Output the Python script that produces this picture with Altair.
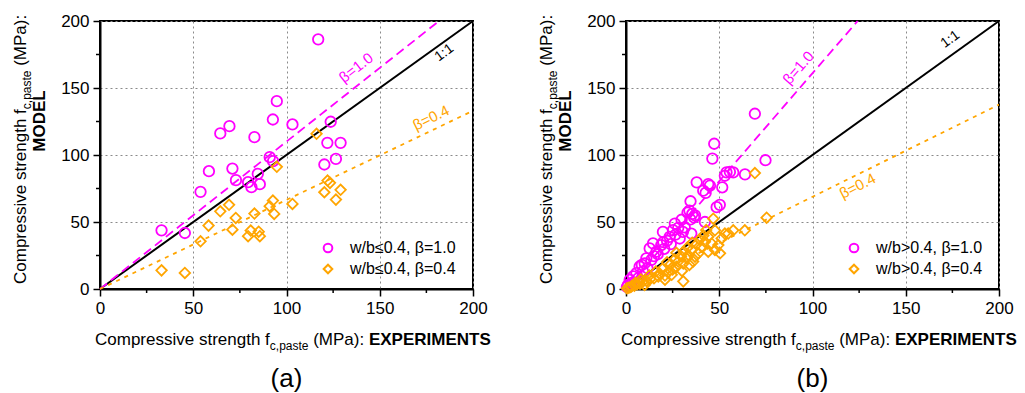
import altair as alt
import pandas as pd

FONT = "Liberation Sans"
MAG = "#FF00FF"
ORA = "#FFA500"
W, H = 373, 268

# ---------------- panel (a): w/b <= 0.4 ----------------
a_circ_x = [117.0, 94.8, 92.7, 69.4, 64.5, 82.8, 103.2, 123.7, 121.9, 129.0, 126.5, 120.3,
            91.0, 92.8, 71.0, 58.4, 72.9, 84.6, 79.4, 81.2, 85.7, 53.9, 33.0, 45.5]
a_circ_y = [186.3, 140.2, 126.5, 121.5, 116.1, 113.3, 122.8, 124.8, 109.1, 109.1, 97.1, 92.9,
            98.4, 95.4, 89.9, 87.9, 81.2, 85.9, 79.7, 76.0, 78.2, 72.5, 43.8, 41.8]
a_dia_x = [116.1, 94.8, 122.0, 123.3, 120.3, 129.0, 126.5, 103.2, 92.7, 91.0, 93.4, 69.2,
           64.5, 72.8, 82.8, 58.2, 71.0, 80.8, 85.1, 79.4, 85.7, 53.9, 33.0, 45.5]
a_dia_y = [115.8, 91.2, 80.9, 79.2, 72.2, 74.0, 66.7, 63.5, 66.0, 61.8, 56.0, 62.8,
           58.0, 53.0, 56.3, 47.3, 44.3, 43.6, 42.8, 39.4, 39.4, 35.6, 13.9, 12.0]

# ---------------- panel (b): w/b > 0.4 ----------------
b_circ_x = [69.1, 47.3, 46.3, 74.8, 53.9, 55.7, 57.5, 53.0, 63.8, 37.9, 44.1, 45.0, 41.4, 42.7,
            51.6, 34.6, 50.3, 48.6, 34.0, 35.5, 36.5, 34.5, 37.0, 33.0, 29.8, 26.2, 28.0, 42.3,
            19.8, 25.2, 30.5, 35.0, 23.4, 28.8, 22.0, 14.5, 18.9, 12.7, 16.3, 10.9, 13.6, 10.0,
            7.3, 9.1, 5.6, 3.8, 2.0, 4.6, 1.0, 0.5, 20.5, 24.0, 26.5, 31.5, 17.0, 15.0, 11.5,
            6.5, 3.0, 8.5, 20.0]
b_circ_y = [130.8, 108.4, 97.3, 96.1, 87.0, 87.4, 87.0, 84.5, 85.5, 79.6, 78.3, 77.1, 73.4, 71.7,
            75.9, 65.5, 62.8, 61.1, 58.5, 56.0, 53.5, 52.0, 55.0, 57.0, 51.7, 48.8, 45.6, 50.0,
            42.6, 43.9, 42.6, 41.4, 38.9, 37.7, 36.0, 34.0, 32.8, 30.3, 27.8, 22.9, 21.7, 19.2,
            16.8, 13.1, 11.8, 9.4, 6.9, 4.4, 3.0, 1.5, 30.0, 33.5, 40.5, 46.0, 26.0, 24.5, 15.5,
            8.0, 4.5, 18.0, 35.0]
b_dia_x = [69.1, 75.4, 63.7, 57.5, 54.8, 46.8, 47.7, 51.3, 53.0, 44.1, 42.3, 45.9, 40.5, 47.7,
           44.1, 38.8, 37.0, 35.2, 33.4, 32.5, 49.5, 50.4, 36.0, 34.0, 30.7, 28.0, 27.0, 25.0,
           30.0, 22.5, 24.5, 20.9, 18.0, 17.3, 15.0, 13.0, 11.0, 9.0, 7.5, 6.0, 4.5, 3.0, 1.5,
           0.5, 30.7, 20.9, 10.0, 26.0, 29.5, 31.0, 24.0, 38.0, 41.5, 35.5, 19.5, 16.0, 12.5,
           8.0, 5.0, 2.5, 33.0, 39.5, 43.0, 27.0, 22.0]
b_dia_y = [86.5, 53.2, 43.8, 43.8, 41.4, 52.5, 43.8, 37.7, 41.4, 38.9, 35.2, 34.0, 31.5, 29.1,
           27.8, 26.6, 24.1, 29.1, 25.4, 22.9, 32.8, 26.6, 20.5, 18.0, 19.0, 20.5, 16.5, 14.5,
           13.5, 12.5, 10.6, 10.0, 11.5, 9.4, 8.0, 7.5, 6.0, 5.5, 4.0, 3.5, 2.5, 2.0, 1.0,
           0.5, 5.7, 6.9, 3.0, 22.0, 24.5, 28.0, 18.5, 33.5, 40.0, 34.5, 15.0, 13.0, 10.0,
           7.0, 4.5, 1.5, 31.0, 37.0, 44.0, 27.0, 20.0]

# model lines: end points (x, y)
line11_x, line11_y = [0, 200], [0, 200]
a_b10_x, a_b10_y = [0, 181.8], [0, 200]
a_b04_x, a_b04_y = [0, 200], [0, 133]
b_b10_x, b_b10_y = [0, 124.2], [0, 200]
b_b04_x, b_b04_y = [0, 200], [0, 137.6]

# annotation labels: text, x, y, angle, colour, size
a_labels = [("1:1", 184.6, 176.3, 324, "black", 14),
            ("β=1.0", 137.3, 165.1, 322, MAG, 15),
            ("β=0.4", 177.5, 127.8, 334, ORA, 15)]
b_labels = [("1:1", 173.9, 186.3, 324, "black", 14),
            ("β=1.0", 92.4, 165.1, 311, MAG, 15),
            ("β=0.4", 124.2, 76.9, 333, ORA, 15)]

major_ticks = [0, 50, 100, 150, 200]
minor_ticks = [25, 75, 125, 175]

xs = alt.Scale(domain=[0, 200], nice=False, zero=False)
ys = alt.Scale(domain=[0, 200], nice=False, zero=False)

AX = alt.Axis(values=major_ticks, labelFontSize=17, labelFont=FONT, labelColor="black",
              tickSize=7, tickWidth=1.5, tickColor="black", domainColor="black",
              domainWidth=2, grid=True, gridColor="#8a8a8a", gridDash=[2, 3],
              gridWidth=1, labelPadding=4, title=None, labelFlush=False,
              labelOverlap=False)


def X(f):
    return alt.X(f, scale=xs, axis=AX)


def Y(f):
    return alt.Y(f, scale=ys, axis=AX)


def text_piece(t, px, py, size=17, weight="normal", angle=0, align="left",
               baseline="alphabetic"):
    kw = dict(align=align, baseline=baseline, fontSize=size, font=FONT,
              fontWeight=weight, color="black")
    if angle:
        kw["angle"] = angle
    return alt.Chart(pd.DataFrame({"t": [t]})).mark_text(**kw).encode(
        text="t:N", x=alt.value(px), y=alt.value(py))


def panel(cx, cy, dx, dy, b10x, b10y, b04x, b04y, labels, lab_c, lab_d, letter):
    pts = pd.DataFrame({"x": cx + dx, "y": cy + dy,
                        "s": [lab_c] * len(cx) + [lab_d] * len(dx)})
    points = alt.Chart(pts).mark_point(filled=False, strokeWidth=1.8, size=110, opacity=1).encode(
        x=X("x:Q"), y=Y("y:Q"),
        color=alt.Color("s:N", scale=alt.Scale(domain=[lab_c, lab_d], range=[MAG, ORA]),
                        legend=alt.Legend(orient="none", legendX=220, legendY=219,
                                          title=None, labelFontSize=16, labelFont=FONT,
                                          labelColor="black", symbolSize=75,
                                          symbolStrokeWidth=2, labelOffset=14,
                                          rowPadding=3)),
        shape=alt.Shape("s:N", scale=alt.Scale(domain=[lab_c, lab_d],
                                               range=["circle", "diamond"])),
    )

    def line(xv, yv, color, dash=None, width=1.8):
        kw = dict(color=color, strokeWidth=width)
        if dash:
            kw["strokeDash"] = dash
        return alt.Chart(pd.DataFrame({"x": xv, "y": yv})).mark_line(**kw).encode(
            x=X("x:Q"), y=Y("y:Q"))

    l11 = line(line11_x, line11_y, "black", width=2)
    l10 = line(b10x, b10y, MAG, dash=[9, 5])
    l04 = line(b04x, b04y, ORA, dash=[4, 5])

    texts = []
    for t, x, y, ang, col, fs in labels:
        texts.append(alt.Chart(pd.DataFrame({"t": [t], "x": [x], "y": [y]})).mark_text(
            angle=ang, color=col, fontSize=fs, font=FONT).encode(
            text="t:N", x=X("x:Q"), y=Y("y:Q")))

    mt = pd.DataFrame({"v": minor_ticks})
    mx = alt.Chart(mt).mark_rule(color="black", strokeWidth=1.5).encode(
        x=X("v:Q"), y=alt.value(H), y2=alt.value(H + 4))
    my = alt.Chart(mt).mark_rule(color="black", strokeWidth=1.5).encode(
        y=Y("v:Q"), x=alt.value(0), x2=alt.value(-4))

    # widths of title pieces (Arial metrics, 17px / 12px)
    w1, w2, sp, w3 = 174.8, 38.7, 4.7, 51.0
    # x axis title (with subscript and bold part)
    x0, bl = -5, 324
    xt = [text_piece("Compressive strength f", x0, bl),
          text_piece("c,paste", x0 + w1, bl + 5, size=12),
          text_piece("(MPa):", x0 + w1 + w2 + sp, bl),
          text_piece("EXPERIMENTS", x0 + w1 + w2 + sp + w3 + sp, bl, weight="bold")]
    # y axis title (rotated)
    yb, yx = 263, -74
    yt = [text_piece("Compressive strength f", yx, yb, angle=270),
          text_piece("c,paste", yx + 5, yb - w1, size=12, angle=270),
          text_piece("(MPa):", yx, yb - w1 - w2 - sp, angle=270),
          text_piece("MODEL", yx + 19, 100, weight="bold", angle=270, align="center")]
    let = text_piece(letter, W / 2, 358, size=26, align="center", baseline="middle")

    return alt.layer(l11, l10, l04, points, *texts, mx, my, *xt, *yt, let).properties(
        width=W, height=H)


left = panel(a_circ_x, a_circ_y, a_dia_x, a_dia_y, a_b10_x, a_b10_y, a_b04_x, a_b04_y,
             a_labels, "w/b≤0.4, β=1.0", "w/b≤0.4, β=0.4", "(a)")
right = panel(b_circ_x, b_circ_y, b_dia_x, b_dia_y, b_b10_x, b_b10_y, b_b04_x, b_b04_y,
              b_labels, "w/b>0.4, β=1.0", "w/b>0.4, β=0.4", "(b)")

chart = alt.hconcat(left, right, spacing=153, bounds="flush").resolve_scale(
    color="independent", shape="independent", x="independent", y="independent"
).resolve_legend(color="independent", shape="independent").configure_view(
    stroke="black", strokeWidth=2
).properties(padding={"left": 10, "top": 11, "right": 0, "bottom": 0},
             background="white")

chart.save("out.html", embed_options={"renderer": "svg", "actions": False})
